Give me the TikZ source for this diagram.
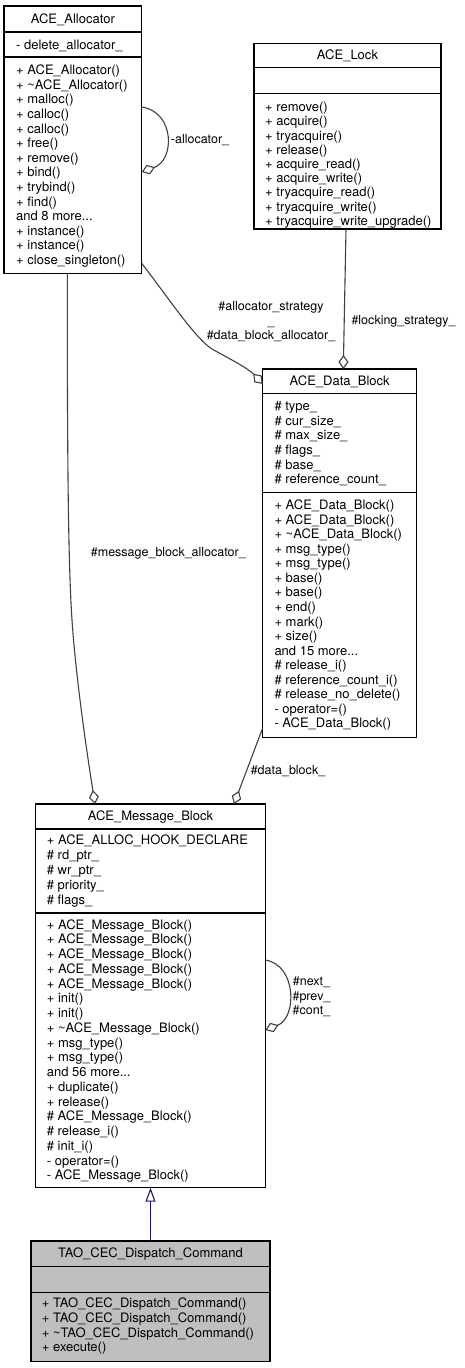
\documentclass[tikz,border=0pt]{standalone}
\usepackage{fontspec}
\setmainfont{TeX Gyre Heros}
\usetikzlibrary{arrows.meta,calc}
\definecolor{edgegray}{HTML}{404040}
\definecolor{curfill}{HTML}{BFBFBF}
\definecolor{inhblue}{HTML}{191970}
\begin{document}
\begin{tikzpicture}[x=1pt,y=-1pt,
  umlbox/.style={draw=black, line width=1.3pt, fill=white, rectangle, inner sep=0pt, outer sep=0pt, anchor=north west},
  curbox/.style={umlbox, fill=curfill},
  title/.style={anchor=base, inner sep=0pt, font=\fontsize{13}{15}\selectfont},
  members/.style={anchor=north west, inner sep=0pt, align=left, font=\fontsize{13}{#1}\selectfont},
  members/.default=14.6,
  divider/.style={draw=black, line width=1.3pt},
  agg/.style={draw=edgegray, line width=1.1pt, -{Diamond[open, length=14pt, width=10pt]}},
  inh/.style={draw=inhblue, line width=1.1pt, -{Triangle[open, length=14pt, width=10pt]}},
  elabel/.style={inner sep=0pt, align=center, font=\fontsize{12.5}{#1}\selectfont},
  elabel/.default=14.6]
\fill[white] (0,0) rectangle (464,1368);
\useasboundingbox (0,0) rectangle (464,1368);

% ---------- ACE_Allocator ----------
\node[umlbox, minimum width=137.7pt, minimum height=267.3pt] (alloc) at (4,6) {};
\draw[divider] ($(alloc.north west)+(0,26)$) -- ($(alloc.north east)+(0,26)$);
\draw[divider] ($(alloc.north west)+(0,51)$) -- ($(alloc.north east)+(0,51)$);
\node[title] (alloc-t) at (72.85,23.5) {ACE\_Allocator};
\node[members] (alloc-a) at (16,39.3) {\strut - delete\_allocator\_};
\node[members] (alloc-m) at (16,64.3) {\strut + ACE\_Allocator()\\
\strut + \textasciitilde ACE\_Allocator()\\
\strut + malloc()\\
\strut + calloc()\\
\strut + calloc()\\
\strut + free()\\
\strut + remove()\\
\strut + bind()\\
\strut + trybind()\\
\strut + find()\\
\strut and 8 more...\\
\strut + instance()\\
\strut + instance()\\
\strut + close\_singleton()};

% ---------- ACE_Lock ----------
\node[umlbox, minimum width=187pt, minimum height=185.7pt] (lock) at (254,43.3) {};
\draw[divider] ($(lock.north west)+(0,24)$) -- ($(lock.north east)+(0,24)$);
\draw[divider] ($(lock.north west)+(0,50)$) -- ($(lock.north east)+(0,50)$);
\node[title] (lock-t) at (347.5,59.8) {ACE\_Lock};
\node[members=14.2] (lock-m) at (265,101.6) {\strut + remove()\\
\strut + acquire()\\
\strut + tryacquire()\\
\strut + release()\\
\strut + acquire\_read()\\
\strut + acquire\_write()\\
\strut + tryacquire\_read()\\
\strut + tryacquire\_write()\\
\strut + tryacquire\_write\_upgrade()};

% ---------- ACE_Data_Block ----------
\node[umlbox, minimum width=154pt, minimum height=368.7pt] (data) at (262.7,369) {};
\draw[divider] ($(data.north west)+(0,24.3)$) -- ($(data.north east)+(0,24.3)$);
\draw[divider] ($(data.north west)+(0,123.3)$) -- ($(data.north east)+(0,123.3)$);
\node[title] (data-t) at (339.7,385.2) {ACE\_Data\_Block};
\node[members=14.66] (data-a) at (274.3,399.9) {\strut \# type\_\\
\strut \# cur\_size\_\\
\strut \# max\_size\_\\
\strut \# flags\_\\
\strut \# base\_\\
\strut \# reference\_count\_};
\node[members=14.55] (data-m) at (274.3,499.3) {\strut + ACE\_Data\_Block()\\
\strut + ACE\_Data\_Block()\\
\strut + \textasciitilde ACE\_Data\_Block()\\
\strut + msg\_type()\\
\strut + msg\_type()\\
\strut + base()\\
\strut + base()\\
\strut + end()\\
\strut + mark()\\
\strut + size()\\
\strut and 15 more...\\
\strut \# release\_i()\\
\strut \# reference\_count\_i()\\
\strut \# release\_no\_delete()\\
\strut - operator=()\\
\strut - ACE\_Data\_Block()};

% ---------- ACE_Message_Block ----------
\node[umlbox, minimum width=229.6pt, minimum height=383.7pt] (msg) at (35.7,804) {};
\draw[divider] ($(msg.north west)+(0,25)$) -- ($(msg.north east)+(0,25)$);
\draw[divider] ($(msg.north west)+(0,109)$) -- ($(msg.north east)+(0,109)$);
\node[title] (msg-t) at (150.5,820.7) {ACE\_Message\_Block};
\node[members=15] (msg-a) at (46.7,834) {\strut + ACE\_ALLOC\_HOOK\_DECLARE\\
\strut \# rd\_ptr\_\\
\strut \# wr\_ptr\_\\
\strut \# priority\_\\
\strut \# flags\_};
\node[members=14.75] (msg-m) at (46.7,918.5) {\strut + ACE\_Message\_Block()\\
\strut + ACE\_Message\_Block()\\
\strut + ACE\_Message\_Block()\\
\strut + ACE\_Message\_Block()\\
\strut + ACE\_Message\_Block()\\
\strut + init()\\
\strut + init()\\
\strut + \textasciitilde ACE\_Message\_Block()\\
\strut + msg\_type()\\
\strut + msg\_type()\\
\strut and 56 more...\\
\strut + duplicate()\\
\strut + release()\\
\strut \# ACE\_Message\_Block()\\
\strut \# release\_i()\\
\strut \# init\_i()\\
\strut - operator=()\\
\strut - ACE\_Message\_Block()};

% ---------- TAO_CEC_Dispatch_Command ----------
\node[curbox, minimum width=239pt, minimum height=120.7pt] (tao) at (31,1241) {};
\draw[divider] ($(tao.north west)+(0,25.7)$) -- ($(tao.north east)+(0,25.7)$);
\draw[divider] ($(tao.north west)+(0,51.3)$) -- ($(tao.north east)+(0,51.3)$);
\node[title] (tao-t) at (150.5,1257.3) {TAO\_CEC\_Dispatch\_Command};
\node[members=14.67] (tao-m) at (41.7,1297.5) {\strut + TAO\_CEC\_Dispatch\_Command()\\
\strut + TAO\_CEC\_Dispatch\_Command()\\
\strut + \textasciitilde TAO\_CEC\_Dispatch\_Command()\\
\strut + execute()};

% ---------- connectors ----------
% allocator_ self loop
\draw[agg] ($(alloc.north east)+(0,101)$) .. controls ($(alloc.north east)+(33.3,106)$) and ($(alloc.north east)+(33.3,154)$) .. ($(alloc.north east)+(0,166)$);
\node[elabel, anchor=base] (lbl-alloc) at (200,143.5) {-allocator\_};

% allocator -> data block
\draw[agg] ($(alloc.north east)+(0,257.3)$) .. controls (170,300) and (195,338) .. (212,349)
  .. controls (228,358) and (248,368) .. ($(data.north west)+(0,15)$);
\node[elabel=14.5, anchor=north] (lbl-strat) at (271,300.4) {\strut \#allocator\_strategy\\ \strut \_\\ \strut \#data\_block\_allocator\_};

% lock -> data block
\draw[agg] ($(lock.south west)+(92,0)$) -- ($(data.north west)+(80.6,0)$);
\node[elabel, anchor=base] (lbl-lock) at (403.5,324.5) {\#locking\_strategy\_};

% allocator -> message block
\draw[agg] ($(alloc.south west)+(63.3,0)$) .. controls (67.3,450) and (68,560) .. (72,620)
  .. controls (76,680) and (88,760) .. ($(msg.north west)+(59.3,0)$);
\node[elabel, anchor=base west] (lbl-mba) at (90.7,556.8) {\#message\_block\_allocator\_};

% data block -> message block
\draw[agg] ($(data.south west)+(0,-9.7)$) -- ($(msg.north west)+(198.3,0)$);
\node[elabel, anchor=base] (lbl-db) at (288,774.5) {\#data\_block\_};

% message block self loop
\draw[agg] ($(msg.north east)+(0,156)$) .. controls ($(msg.north east)+(31.7,161)$) and ($(msg.north east)+(31.7,214)$) .. ($(msg.north east)+(0,226)$);
\node[elabel=14.65, anchor=north] (lbl-next) at (311.5,974.9) {\strut \#next\_\\ \strut \#prev\_\\ \strut \#cont\_};

% inheritance
\draw[inh] (tao.north) -- (msg.south);
\end{tikzpicture}
\end{document}
